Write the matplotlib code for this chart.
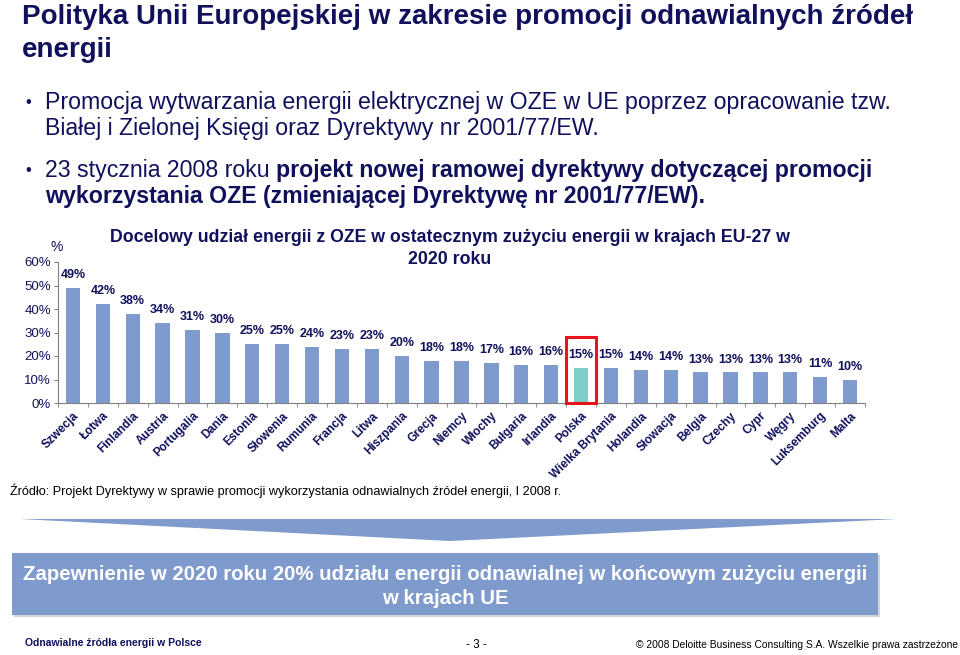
import matplotlib
matplotlib.use("Agg")
import matplotlib.pyplot as plt
from matplotlib.patches import Polygon, Rectangle
import numpy as np

# ---------------- dane
countries = ["Szwecja", "Łotwa", "Finlandia", "Austria", "Portugalia", "Dania",
             "Estonia", "Słowenia", "Rumunia", "Francja", "Litwa", "Hiszpania",
             "Grecja", "Niemcy", "Włochy", "Bułgaria", "Irlandia", "Polska",
             "Wielka Brytania", "Holandia", "Słowacja", "Belgia", "Czechy",
             "Cypr", "Węgry", "Luksemburg", "Malta"]
shares = [49, 42, 38, 34, 31, 30, 25, 25, 24, 23, 23, 20, 18, 18, 17, 16, 16,
          15, 15, 14, 14, 13, 13, 13, 13, 11, 10]
yticks = [0, 10, 20, 30, 40, 50, 60]
highlight = "Polska"

navy = "#10105c"
barcol = "#7f9acd"
polcol = "#7ecdc8"
plt.rcParams['font.family'] = ["Liberation Sans", "DejaVu Sans"]

fig = plt.figure(figsize=(9.6, 6.55), dpi=100)

# warstwa w pikselach dla tekstu i ksztaltow
bg = fig.add_axes([0, 0, 1, 1])
bg.set_xlim(0, 960)
bg.set_ylim(655, 0)
bg.axis("off")

bg.text(22, 17, "Polityka Unii Europejskiej w zakresie promocji odnawialnych źródeł",
        fontsize=20, fontweight="bold", color=navy, va="center")
bg.text(22, 50, "energii", fontsize=20, fontweight="bold", color=navy,
        va="center")

bg.text(25, 103, "•", fontsize=12, color=navy, va="center")
bg.text(45, 103, "Promocja wytwarzania energii elektrycznej w OZE w UE poprzez opracowanie tzw.",
        fontsize=16.7, color=navy, va="center")
bg.text(45, 128, "Białej i Zielonej Księgi oraz Dyrektywy nr 2001/77/EW.",
        fontsize=16.7, color=navy, va="center")
bg.text(25, 170, "•", fontsize=12, color=navy, va="center")
t1 = bg.text(45, 170, "23 stycznia 2008 roku ", fontsize=16.7, color=navy,
             va="center")
bg.annotate("projekt nowej ramowej dyrektywy dotyczącej promocji", xy=(1, 0.5),
            xycoords=t1, va="center", fontsize=16.7, fontweight="bold",
            color=navy)
bg.text(45, 196, "wykorzystania OZE (zmieniającej Dyrektywę nr 2001/77/EW).",
        fontsize=16.7, fontweight="bold", color=navy, va="center")

# tytul wykresu
bg.text(450, 238, "Docelowy udział energii z OZE w ostatecznym zużyciu energii w krajach EU-27 w",
        fontsize=12.8, fontweight="bold", color=navy, ha="center", va="center")
bg.text(450, 260, "2020 roku", fontsize=12.8, fontweight="bold", color=navy,
        ha="center", va="center")
bg.text(57, 247, "%", fontsize=10, color=navy, ha="center", va="center")

bg.text(10, 491, "Źródło: Projekt Dyrektywy w sprawie promocji wykorzystania odnawialnych źródeł energii, I 2008 r.",
        fontsize=9.1, color="black", va="center")

# strzalka i ramka
bg.add_patch(Polygon([(20, 519), (897, 519), (450, 541)], closed=True,
                     facecolor=barcol, edgecolor="none"))
bg.add_patch(Rectangle((14, 555), 866, 62, facecolor="#d4d4d4", edgecolor="none"))
bg.add_patch(Rectangle((12, 553), 866, 62, facecolor=barcol, edgecolor="none"))
bg.text(445, 574, "Zapewnienie w 2020 roku 20% udziału energii odnawialnej w końcowym zużyciu energii",
        fontsize=14.7, fontweight="bold", color="white", ha="center", va="center")
bg.text(445, 598, "w krajach UE", fontsize=14.7, fontweight="bold",
        color="white", ha="center", va="center")

# stopka
bg.text(25, 643, "Odnawialne źródła energii w Polsce", fontsize=7.5,
        fontweight="bold", color=navy, va="center")
bg.text(476, 645, "- 3 -", fontsize=8.5, color="black", ha="center",
        va="center")
bg.text(958, 645, "© 2008 Deloitte Business Consulting S.A. Wszelkie prawa zastrzeżone",
        fontsize=7.4, color="black", ha="right", va="center")

# ---------------- wykres
ax = fig.add_axes([58 / 960, (655 - 403) / 655, 807 / 960, 141 / 655])
x = np.arange(len(countries))
vals = np.array(shares) / 100.0
colors = [polcol if c == highlight else barcol for c in countries]
ax.bar(x, vals, width=0.48, color=colors, zorder=2)
for xi, v in zip(x, vals):
    ax.annotate(f"{int(round(v * 100))}%", (xi, v), xytext=(0, 5),
                textcoords="offset points", ha="center", va="bottom",
                fontsize=9, fontweight="bold", color=navy)

i = countries.index(highlight)
ax.add_patch(Rectangle((i - 0.49, 0), 0.98, 0.28, fill=False, edgecolor="#e8141c",
                       linewidth=2.2, clip_on=False, zorder=3))

ax.set_xlim(-0.5, len(countries) - 0.5)
ax.set_ylim(0, 0.6)
ax.set_yticks(np.array(yticks) / 100.0)
ax.set_yticklabels([f"{t}%" for t in yticks], fontsize=9.5, color=navy)
ax.set_xticks(x)
ax.set_xticklabels(countries, rotation=45, ha="right", rotation_mode="anchor",
                   fontsize=8.5, fontweight="bold", color=navy)
ax.tick_params(axis="x", which="major", length=0, pad=5)
ax.set_xticks(np.arange(-0.5, len(countries), 1), minor=True)
ax.tick_params(axis="x", which="minor", length=3, color="#808080")
ax.tick_params(axis="y", length=3, color="#808080", pad=2)
for s in ["top", "right"]:
    ax.spines[s].set_visible(False)
for s in ["left", "bottom"]:
    ax.spines[s].set_color("#808080")
ax.patch.set_alpha(0)

fig.savefig("out.png", dpi=100)
